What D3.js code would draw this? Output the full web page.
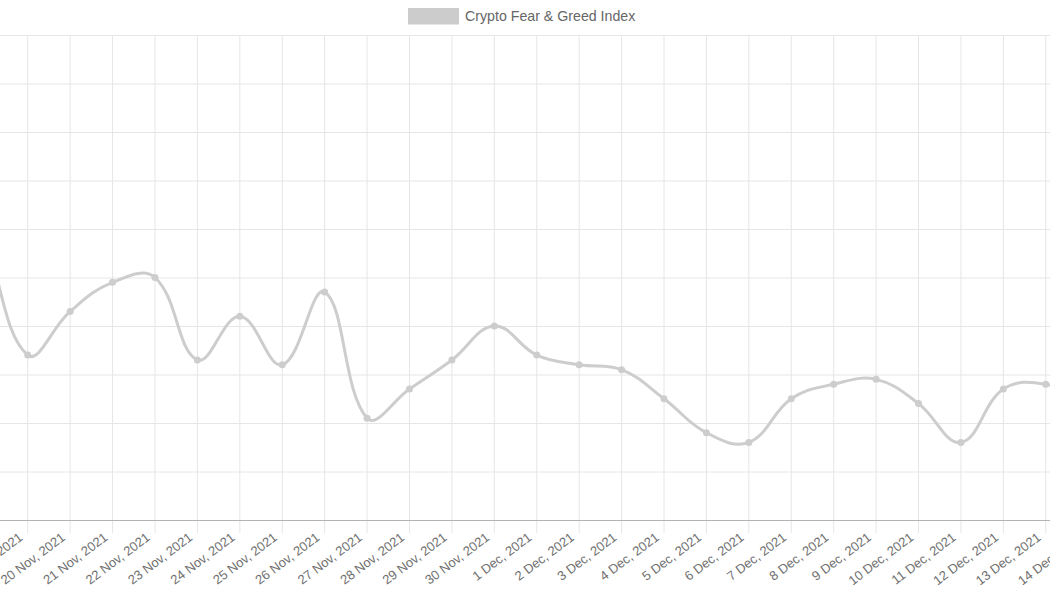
<!DOCTYPE html>
<html>
<head>
<meta charset="utf-8">
<script src="https://cdn.jsdelivr.net/npm/d3@7"></script>
<style>
  body { margin: 0; background: #fff; }
  svg { display: block; overflow: hidden; font-family: "Liberation Sans", Arial, Helvetica, sans-serif; }
</style>
</head>
<body>
<div id="chart"></div>
<script>
// dates shown on the x axis (18 Nov and 14 Dec sit just outside the crop)
var dates = ["18 Nov, 2021", "19 Nov, 2021", "20 Nov, 2021", "21 Nov, 2021", "22 Nov, 2021",
    "23 Nov, 2021", "24 Nov, 2021", "25 Nov, 2021", "26 Nov, 2021", "27 Nov, 2021",
    "28 Nov, 2021", "29 Nov, 2021", "30 Nov, 2021", "1 Dec, 2021", "2 Dec, 2021",
    "3 Dec, 2021", "4 Dec, 2021", "5 Dec, 2021", "6 Dec, 2021", "7 Dec, 2021",
    "8 Dec, 2021", "9 Dec, 2021", "10 Dec, 2021", "11 Dec, 2021", "12 Dec, 2021",
    "13 Dec, 2021", "14 Dec, 2021"]
var fearGreed = [58, 34, 43, 49, 50, 33, 42, 32, 47, 21, 27, 33, 40, 34, 32, 31, 25, 18, 16,
    25, 28, 29, 24, 16, 27, 28, 24]
var yTicks = [0, 10, 20, 30, 40, 50, 60, 70, 80, 90, 100]
var seriesName = "Crypto Fear & Greed Index"

var width = 1050, height = 600
var lineColor = "#cdcdcd"

var svg = d3.select("#chart")
    .append("svg")
    .attr("width", width)
    .attr("height", height)

// plot area is wider than the window, the picture is a crop of it
var x = d3.scalePoint()
    .domain(dates)
    .range([-14.7, 1088.2])

var y = d3.scaleLinear()
    .domain([0, 100])
    .range([520, 35])

// horizontal grid
svg.append("g")
    .selectAll("line")
    .data(yTicks)
    .enter()
    .append("line")
    .attr("x1", 0)
    .attr("x2", width)
    .attr("y1", function (d) { return y(d) + 0.5 })
    .attr("y2", function (d) { return y(d) + 0.5 })
    .attr("stroke", function (d) { return d === 0 ? "#b3b3b3" : "#e6e6e6" })
    .attr("stroke-width", 1)

// vertical grid + ticks
svg.append("g")
    .selectAll("line")
    .data(dates)
    .enter()
    .append("line")
    .attr("x1", function (d) { return x(d) })
    .attr("x2", function (d) { return x(d) })
    .attr("y1", y(100))
    .attr("y2", 533)
    .attr("stroke", "#e6e6e6")
    .attr("stroke-width", 1)

// redraw the axis line on top of the vertical grid
svg.append("line")
    .attr("x1", 0)
    .attr("x2", width)
    .attr("y1", y(0) + 0.5)
    .attr("y2", y(0) + 0.5)
    .attr("stroke", "#b3b3b3")

// rotated tick labels
svg.append("g")
    .selectAll("text")
    .data(dates)
    .enter()
    .append("text")
    .attr("transform", function (d) { return "translate(" + (x(d) - 4.1) + ",539.1) rotate(-37)" })
    .attr("text-anchor", "end")
    .attr("font-size", 13)
    .attr("fill", "#707070")
    .text(function (d) { return d })

// same spline as chart.js (tension 0.4)
var pts = fearGreed.map(function (v, i) { return { x: x(dates[i]), y: y(v) } })
var tension = 0.4
pts.forEach(function (p, i) {
    var prev = pts[i - 1] || p
    var next = pts[i + 1] || p
    var d01 = Math.hypot(p.x - prev.x, p.y - prev.y)
    var d12 = Math.hypot(next.x - p.x, next.y - p.y)
    var s01 = d01 / (d01 + d12) || 0
    var s12 = d12 / (d01 + d12) || 0
    var fa = tension * s01, fb = tension * s12
    p.cpPrev = { x: p.x - fa * (next.x - prev.x), y: p.y - fa * (next.y - prev.y) }
    p.cpNext = { x: p.x + fb * (next.x - prev.x), y: p.y + fb * (next.y - prev.y) }
})

var path = d3.path()
path.moveTo(pts[0].x, pts[0].y)
for (let i = 1; i < pts.length; i++) {
    let a = pts[i - 1], b = pts[i]
    path.bezierCurveTo(a.cpNext.x, a.cpNext.y, b.cpPrev.x, b.cpPrev.y, b.x, b.y)
}

svg.append("path")
    .attr("d", path.toString())
    .attr("fill", "none")
    .attr("stroke", lineColor)
    .attr("stroke-width", 3)

svg.append("g")
    .selectAll("circle")
    .data(fearGreed)
    .enter()
    .append("circle")
    .attr("cx", function (d, i) { return x(dates[i]) })
    .attr("cy", function (d) { return y(d) })
    .attr("r", 3.5)
    .attr("fill", lineColor)

// legend
svg.append("rect")
    .attr("x", 408)
    .attr("y", 8)
    .attr("width", 51)
    .attr("height", 16.5)
    .attr("fill", "#cccccc")

svg.append("text")
    .attr("x", 465)
    .attr("y", 20.7)
    .attr("font-size", 14.2)
    .attr("fill", "#666")
    .text(seriesName)
</script>
</body>
</html>
